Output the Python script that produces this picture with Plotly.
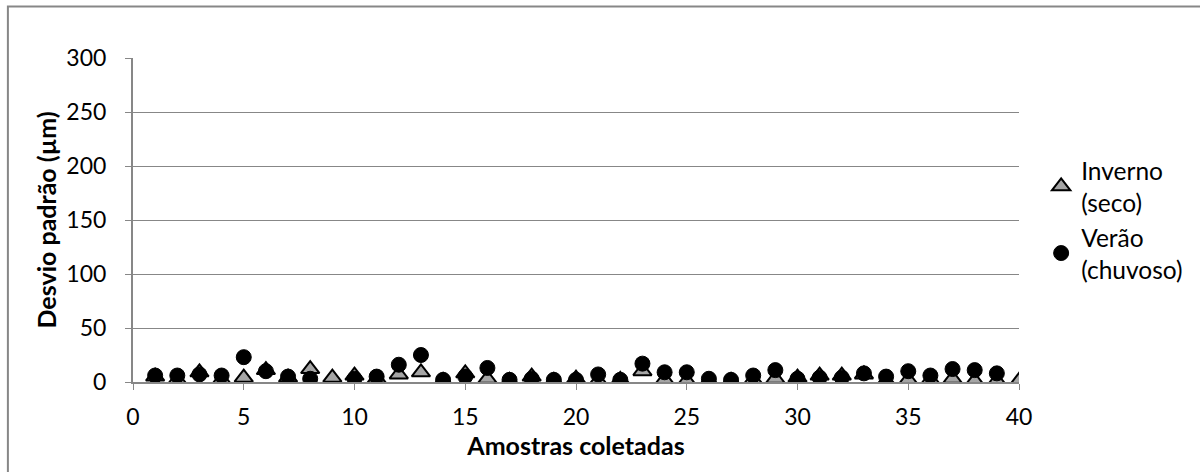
import plotly.graph_objects as go

# amostras 1..40
amostras = list(range(1, 41))

inverno_seco = [5, 2, 9, 2, 4, 11, 4, 12, 4, 6,
                3, 7, 9, 1, 8, 3, 1, 5, 1, 3,
                1, 2, 10, 2, 1, 1, 1, 2, 3, 4,
                6, 6, 7, 1, 2, 2, 3, 1, 1, 1]

verao_chuvoso = [6, 6, 7, 6, 23, 10, 5, 3, None, 3,
                 5, 16, 25, 2, 5, 13, 2, 3, 2, 2,
                 7, 2, 17, 9, 9, 3, 2, 6, 11, 3,
                 4, 4, 8, 5, 10, 6, 12, 11, 8, None]

GRAY = '#878787'
FONT = 'Lato'

fig = go.Figure()

fig.add_trace(go.Scatter(
    x=amostras, y=inverno_seco, mode='markers', name='Inverno<br>(seco)',
    legendgroup='inv',
    marker=dict(symbol='triangle-up', size=16, color='#a5a5a5',
                line=dict(color='black', width=2))
))
fig.add_trace(go.Scatter(
    x=amostras, y=verao_chuvoso, mode='markers', name='Verão<br>(chuvoso)',
    legendgroup='ver',
    marker=dict(symbol='circle', size=15, color='black',
                line=dict(color='black', width=1))
))

fig.update_layout(
    width=1200, height=472,
    margin=dict(l=133, r=178, t=58, b=90),
    paper_bgcolor='white', plot_bgcolor='white',
    font=dict(family=FONT, size=23, color='black'),
    showlegend=True,
    legend=dict(x=1.025, xanchor='left', y=0.5, yanchor='middle',
                font=dict(family=FONT, size=24.5), traceorder='grouped',
                tracegroupgap=0, bgcolor='rgba(0,0,0,0)'),
    # grey frame around the whole chart (right/bottom edges are cut off)
    shapes=[dict(type='rect', xref='paper', yref='paper',
                 x0=-0.1412, x1=1.3, y0=-0.5, y1=1.159,
                 line=dict(color=GRAY, width=2), layer='below')],
)

fig.update_xaxes(
    range=[0, 40], dtick=5, tick0=0,
    showgrid=False, zeroline=False,
    showline=True, linecolor=GRAY, linewidth=2,
    ticks='outside', ticklen=6, tickcolor=GRAY, tickwidth=1,
    ticklabelstandoff=7,
    tickfont=dict(family=FONT, size=23),
    title=dict(text='<b>Amostras coletadas</b>', standoff=2,
               font=dict(family=FONT, size=25)),
)
fig.update_yaxes(
    range=[0, 300], dtick=50, tick0=0,
    showgrid=True, gridcolor=GRAY, gridwidth=1, zeroline=False,
    showline=True, linecolor=GRAY, linewidth=2,
    ticks='outside', ticklen=6, tickcolor=GRAY, tickwidth=1,
    ticklabelstandoff=14,
    tickfont=dict(family=FONT, size=23),
    title=dict(text='<b>Desvio padrão (µm)</b>', standoff=3,
               font=dict(family=FONT, size=25)),
)

# drop the default 8px body margin so the figure sits at the page corner
fig.write_html('out.html', config={'displayModeBar': False},
               post_script="document.body.style.margin='0';")
